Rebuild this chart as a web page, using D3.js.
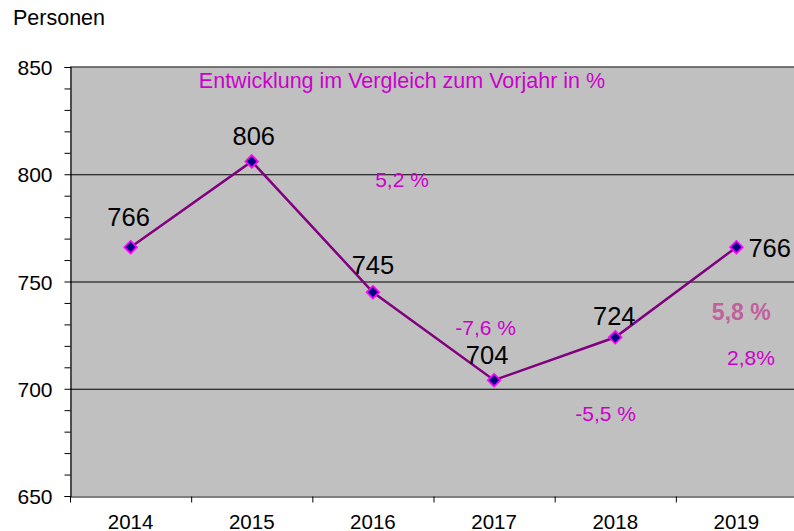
<!DOCTYPE html>
<html>
<head>
<meta charset="utf-8">
<script src="https://cdn.jsdelivr.net/npm/d3@7"></script>
<style>
  body { margin: 0; background: #fff; }
  svg { font-family: Arial, 'Liberation Sans', sans-serif; }
</style>
</head>
<body>
<div id="chart"></div>
<script>
const years = ['2014', '2015', '2016', '2017', '2018', '2019']
const persons = [766, 806, 745, 704, 724, 766]
const yTicks = [650, 700, 750, 800, 850]
const gridValues = [700, 750, 800]
// Prozentangaben wie im Original, frei im Diagramm platziert (Jahr-Index, Wert)
const pctLabels = ['5,2 %', '-7,6 %', '-5,5 %', '5,8 %', '2,8%']
const pctPos = [[2.74, 794], [3.43, 725], [4.42, 685], [5.54, 732], [5.62, 711]]

const width = 794
const height = 531
const margin = { top: 67, right: -3, bottom: 35, left: 70 }

const svg = d3.select('#chart')
  .append('svg')
  .attr('width', width)
  .attr('height', height)

const xScale = d3.scaleBand()
  .domain(years)
  .range([margin.left, width - margin.right])

const xIdx = d3.scaleLinear()
  .domain([0, years.length])
  .range([margin.left, width - margin.right])

const yScale = d3.scaleLinear()
  .domain([650, 850])
  .range([height - margin.bottom, margin.top])

const cx = (i) => xIdx(i + 0.5)

// Plotfläche
svg.append('rect')
  .attr('x', margin.left)
  .attr('y', margin.top)
  .attr('width', xIdx(years.length) - margin.left)
  .attr('height', yScale(650) - yScale(850))
  .attr('fill', '#c0c0c0')

svg.selectAll('.grid')
  .data(gridValues)
  .enter().append('line')
  .attr('class', 'grid')
  .attr('x1', margin.left)
  .attr('x2', xIdx(years.length))
  .attr('y1', d => yScale(d) + 0.5)
  .attr('y2', d => yScale(d) + 0.5)
  .attr('stroke', '#000')
  .attr('stroke-width', 1)

svg.append('line')
  .attr('x1', margin.left)
  .attr('x2', xIdx(years.length))
  .attr('y1', yScale(850))
  .attr('y2', yScale(850))
  .attr('stroke', '#505050')
  .attr('stroke-width', 1.5)

// Achsen
const yAxis = d3.axisLeft(yScale)
  .tickValues(d3.range(650, 851, 10))
  .tickSize(6)
  .tickFormat(d => yTicks.includes(d) ? d : '')

svg.append('g')
  .attr('class', 'y-axis')
  .attr('transform', `translate(${margin.left + 0.5},0)`)
  .call(yAxis)
  .call(g => g.select('.domain').attr('stroke', '#000').attr('stroke-width', 1.2))
  .call(g => g.selectAll('text').attr('font-size', 21).attr('fill', '#000').attr('x', -18).attr('dy', '0.36em'))

const xAxis = d3.axisBottom(xScale).tickSize(0).tickSizeOuter(0)

const xg = svg.append('g')
  .attr('class', 'x-axis')
  .attr('transform', `translate(0,${height - margin.bottom + 0.5})`)
  .call(xAxis)
  .call(g => g.select('.domain').attr('stroke', '#000').attr('stroke-width', 1.2))
  .call(g => g.selectAll('text').attr('font-size', 20.5).attr('fill', '#000').attr('y', 32).attr('dy', 0))

xg.selectAll('.sep')
  .data(d3.range(0, years.length + 1))
  .enter().append('line')
  .attr('class', 'sep')
  .attr('x1', d => xIdx(d) + 0.5)
  .attr('x2', d => xIdx(d) + 0.5)
  .attr('y1', 0)
  .attr('y2', 6)
  .attr('stroke', '#000')

svg.append('text')
  .attr('x', 13)
  .attr('y', 25)
  .attr('font-size', 21.5)
  .attr('fill', '#000')
  .text('Personen')

// Linie
const line = d3.line()
  .x((d, i) => cx(i))
  .y(d => yScale(d))

svg.append('path')
  .datum(persons)
  .attr('d', line)
  .attr('fill', 'none')
  .attr('stroke', '#800080')
  .attr('stroke-width', 2.5)

svg.selectAll('.marker')
  .data(persons)
  .enter().append('path')
  .attr('class', 'marker')
  .attr('d', d3.symbol().type(d3.symbolDiamond2).size(100))
  .attr('transform', (d, i) => `translate(${cx(i)},${yScale(d)})`)
  .attr('fill', '#000080')
  .attr('stroke', '#ff00ff')
  .attr('stroke-width', 1.8)

// Werte
const valueOffsets = [[-2, -21], [2, -16], [0, -18], [-7, -16], [-1, -12], [12, 10]]
svg.selectAll('.value')
  .data(persons)
  .enter().append('text')
  .attr('class', 'value')
  .attr('x', (d, i) => cx(i) + valueOffsets[i][0])
  .attr('y', (d, i) => yScale(d) + valueOffsets[i][1])
  .attr('text-anchor', (d, i) => i === persons.length - 1 ? 'start' : 'middle')
  .attr('font-size', 25.5)
  .attr('fill', '#000')
  .text(d => d)

// Prozentangaben
svg.append('text')
  .attr('x', 402)
  .attr('y', 88)
  .attr('text-anchor', 'middle')
  .attr('font-size', 21.5)
  .attr('fill', '#cc00cc')
  .text('Entwicklung im Vergleich zum Vorjahr in %')

svg.selectAll('.pct')
  .data(pctLabels)
  .enter().append('text')
  .attr('class', 'pct')
  .attr('x', (d, i) => xIdx(pctPos[i][0]))
  .attr('y', (d, i) => yScale(pctPos[i][1]))
  .attr('text-anchor', 'middle')
  .attr('font-size', (d, i) => i === 3 ? 23 : 21)
  .attr('font-weight', (d, i) => i === 3 ? 'bold' : 'normal')
  .attr('fill', (d, i) => i === 3 ? '#c0609c' : '#cc00cc')
  .text(d => d)
</script>
</body>
</html>
